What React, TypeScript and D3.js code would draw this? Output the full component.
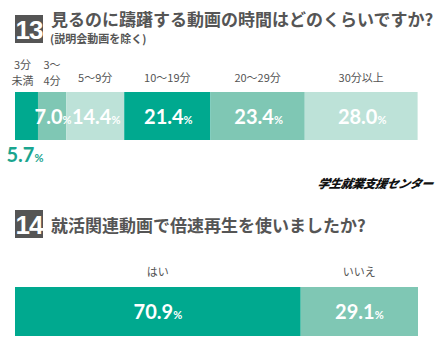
import * as d3 from "d3";

const W = 441;
const H = 351;

// Q13: durations
const durationLabels = [["3分", "未満"], ["3〜", "4分"], ["5〜9分"], ["10〜19分"], ["20〜29分"], ["30分以上"]];
const durationValues = [5.7, 7.0, 14.4, 21.4, 23.4, 28.0];

// Q14: speed playback
const speedLabels = ["はい", "いいえ"];
const speedValues = [70.9, 29.1];

const COLORS = ["#00a98f", "#7fc7b4", "#bde2d8"];
const JP = "'Noto Sans CJK JP', 'Noto Sans', sans-serif";
const NUM = "Lato, 'Noto Sans', sans-serif";
const GRAY = "#555";

function stack(values: number[]) {
  let acc = 0;
  return values.map((v) => {
    const s = acc;
    acc += v;
    return { v, s, e: acc };
  });
}

function Pct({ x, y, v, fill, size = 20 }: { x: number; y: number; v: number; fill: string; size?: number }) {
  return (
    <text x={x} y={y} textAnchor="middle" fill={fill} fontFamily={NUM} fontWeight={700} fontSize={size}>
      {v.toFixed(1)}
      <tspan fontSize={size * 0.55}>%</tspan>
    </text>
  );
}

function Heading({ num, y, ty, title }: { num: string; y: number; ty: number; title: string }) {
  return (
    <g>
      <rect x={15} y={y} width={28} height={28} fill="#555" />
      <text x={29} y={y + 24} textAnchor="middle" fill="#fff" fontFamily="'Liberation Sans Narrow', 'Liberation Sans', sans-serif" fontWeight={700} fontSize={26} letterSpacing={-1}>
        {num}
      </text>
      <text x={51} y={ty} fill={GRAY} fontFamily={JP} fontWeight={700} fontSize={17}>
        {title}
      </text>
    </g>
  );
}

export default function App() {
  const x = d3.scaleLinear().domain([0, 100]).range([15, 418]);
  const seg1 = stack(durationValues);
  const seg2 = stack(speedValues);
  const bar1 = { y: 92, h: 48 };
  const bar2 = { y: 287, h: 49 };

  return (
    <svg width={W} height={H} style={{ position: "absolute", left: 0, top: 0, background: "#fff" }}>
      <Heading num="13" y={15} ty={26} title="見るのに躊躇する動画の時間はどのくらいですか?" />
      <text x={50} y={43} fill={GRAY} fontFamily={JP} fontWeight={700} fontSize={11}>
        (説明会動画を除く)
      </text>

      {seg1.map((d, i) => {
        const x0 = x(d.s);
        const x1 = x(d.e);
        const cx = (x0 + x1) / 2;
        const lines = durationLabels[i];
        const lx = i === 0 ? cx - 4 : cx;
        return (
          <g key={i}>
            <rect x={x0} y={bar1.y} width={x1 - x0} height={bar1.h} fill={COLORS[i % 3]} />
            {lines.length === 2 ? (
              <text x={lx} y={69} textAnchor="middle" fill={GRAY} fontFamily={JP} fontSize={11}>
                <tspan x={lx}>{lines[0]}</tspan>
                <tspan x={lx} dy={16}>{lines[1]}</tspan>
              </text>
            ) : (
              <text x={cx} y={82} textAnchor="middle" fill={GRAY} fontFamily={JP} fontSize={11}>
                {lines[0]}
              </text>
            )}
          </g>
        );
      })}
      {seg1.map((d, i) =>
        i === 0 ? (
          <Pct key={i} x={25} y={162} v={d.v} fill="#1aa58f" />
        ) : (
          <Pct key={i} x={(x(d.s) + x(d.e)) / 2 + 1} y={124} v={d.v} fill="#fff" />
        )
      )}

      <text x={433} y={188} textAnchor="end" fill="#111" fontFamily={JP} fontWeight={900} fontStyle="italic" fontSize={12} letterSpacing={-0.5} transform="skewX(-12) translate(39,0)">
        学生就業支援センター
      </text>

      <Heading num="14" y={210} ty={232} title="就活関連動画で倍速再生を使いましたか?" />

      {seg2.map((d, i) => {
        const x0 = x(d.s);
        const x1 = x(d.e);
        const cx = (x0 + x1) / 2;
        return (
          <g key={i}>
            <rect x={x0} y={bar2.y} width={x1 - x0} height={bar2.h} fill={COLORS[i]} />
            <text x={cx} y={276} textAnchor="middle" fill={GRAY} fontFamily={JP} fontSize={11}>
              {speedLabels[i]}
            </text>
            <Pct x={cx} y={319} v={d.v} fill="#fff" />
          </g>
        );
      })}
    </svg>
  );
}
